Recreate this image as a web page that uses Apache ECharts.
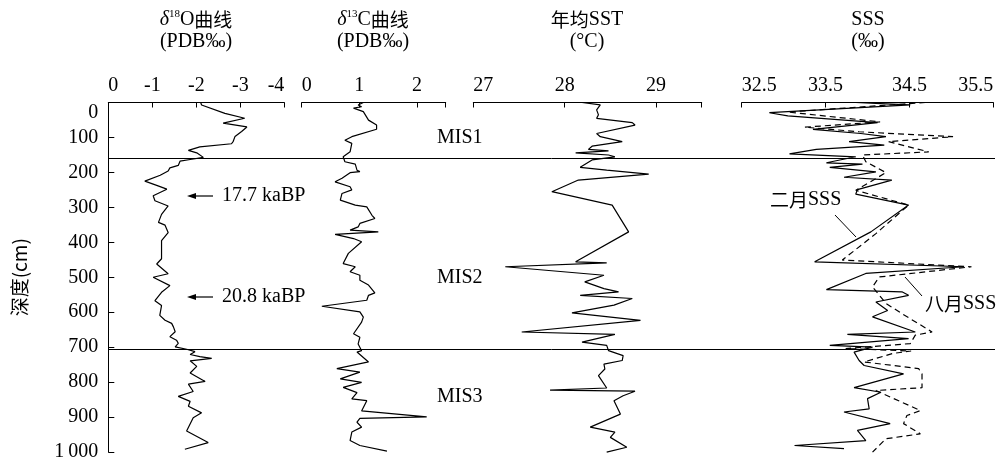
<!DOCTYPE html>
<html><head><meta charset="utf-8">
<script src="https://cdn.jsdelivr.net/npm/echarts@6/dist/echarts.min.js"></script>
<style>html,body{margin:0;padding:0;background:#fff}#c{width:1007px;height:462px}</style>
</head><body><div id="c"></div>
<script>
// ---------------- DATA ----------------
const depthTicks = [0,100,200,300,400,500,600,700,800,900,1000];
const misBoundaries = [158, 700];

const o18Depth = [0,7,31,45,59,70,83,97,111,118,127,137,144,157,163,168,180,187,196,208,225,237,248,267,281,296,320,343,351,372,395,447,462,490,500,524,543,567,581,609,623,632,642,656,670,680,689,699,706,713,721,727,732,739,755,774,798,806,827,841,855,869,888,902,940,973,992];
const o18Value = [-2.10,-2.12,-2.65,-3.10,-2.61,-3.15,-3.03,-2.88,-2.84,-2.80,-2.08,-1.82,-2.01,-2.16,-1.86,-1.63,-1.59,-1.40,-1.36,-1.18,-0.83,-1.10,-1.33,-1.02,-1.06,-1.36,-1.21,-1.14,-1.29,-1.36,-1.21,-1.21,-1.10,-1.36,-1.02,-1.40,-1.21,-1.06,-1.21,-1.17,-1.29,-1.44,-1.48,-1.52,-1.40,-1.55,-1.59,-1.52,-1.78,-1.97,-1.86,-2.08,-2.35,-1.86,-2.01,-1.86,-2.20,-1.82,-1.93,-1.59,-1.86,-1.82,-2.12,-1.93,-1.78,-2.27,-1.74];

const c13Depth = [0,7,12,16,26,50,64,76,97,107,116,140,154,168,175,192,196,199,215,225,239,248,258,277,291,296,320,329,343,353,362,367,374,386,395,428,457,466,480,490,504,518,540,547,561,578,594,609,623,656,666,685,704,708,736,755,765,784,794,808,823,841,846,875,892,896,907,921,935,959,973,989];
const c13Value = [1.07,0.98,1.04,0.90,1.07,1.16,1.30,1.30,0.87,0.75,0.87,0.84,0.72,0.75,0.93,0.96,1.01,0.84,0.70,0.58,0.84,0.87,0.70,0.67,0.93,1.13,1.22,1.27,1.01,0.98,0.84,1.33,0.58,0.90,1.04,0.81,0.72,0.93,0.84,1.01,1.01,1.16,1.27,1.16,1.13,0.35,1.01,1.07,1.04,0.90,1.01,0.98,1.04,0.96,1.16,0.61,1.01,0.67,1.04,0.72,0.96,0.87,1.13,1.04,2.17,1.01,0.96,1.04,0.87,0.84,1.01,1.48];

const sstDepth = [0,7,21,35,45,57,64,88,97,111,124,133,137,143,149,154,163,184,192,203,220,253,291,367,452,455,466,490,509,528,537,547,556,575,597,618,651,658,680,689,704,718,732,742,756,775,810,816,819,832,846,884,921,935,950,978,992];
const sstValue = [28.19,28.39,28.35,28.37,28.35,28.74,28.77,28.35,28.39,28.63,28.30,28.26,28.48,28.12,28.48,28.55,28.30,28.17,28.46,28.92,28.15,27.86,28.52,28.70,28.12,28.46,27.35,28.43,28.22,28.43,28.59,28.17,28.74,28.54,28.08,28.83,27.53,28.55,28.19,28.46,28.48,28.64,28.63,28.43,28.44,28.37,28.46,27.84,28.77,28.64,28.54,28.61,28.28,28.55,28.50,28.68,28.46];

const sssFebDepth = [0,4,7,29,38,57,76,88,97,111,121,133,146,154,171,175,184,197,212,220,247,260,291,367,452,466,485,531,537,547,566,590,608,651,658,670,689,694,708,732,746,770,809,822,840,869,878,911,930,959,973,982];
const sssFebValue = [33.86,34.22,34.51,32.83,33.05,34.12,33.35,33.92,34.22,33.78,34.20,33.39,33.07,33.86,33.51,33.94,33.55,34.10,33.72,34.29,33.88,33.86,34.49,34.04,33.37,35.15,33.98,33.51,34.41,34.49,34.10,34.24,34.06,34.57,33.76,34.49,33.55,34.06,33.84,33.90,33.96,34.43,33.84,34.16,34.00,34.02,33.72,34.27,33.88,33.98,33.13,33.72];

const sssAugDepth = [0,27,55,70,83,97,111,140,149,168,199,249,291,372,447,466,495,523,570,599,651,660,684,698,705,712,736,755,770,809,817,874,888,911,940,954,992];
const sssAugValue = [34.69,33.05,34.15,33.25,33.90,35.02,34.25,34.73,33.94,33.98,34.22,33.86,34.49,34.10,33.70,35.24,34.14,34.06,34.22,34.41,34.77,34.57,34.51,33.74,34.52,34.30,33.96,34.61,34.65,34.65,34.10,34.63,34.47,34.43,34.63,34.22,34.06];

// ---------------- CHART ----------------
const FONT = '"Liberation Serif","Times New Roman","Noto Sans CJK SC",serif';
const CJK = '"Noto Sans CJK SC","Liberation Serif",serif';
const zip = (d, v) => d.map((y, i) => [v[i], y]);

const TOP = 102.5, H = 352.5;
const grids = [
  {left:108.3, top:TOP, width:176, height:H},
  {left:301.7, top:TOP, width:144, height:H},
  {left:473.3, top:TOP, width:228.4, height:H},
  {left:741.7, top:TOP, width:251.6, height:H},
  {left:108, top:TOP, width:887, height:H}
];

const axLine = {show:true, lineStyle:{color:'#000', width:1}};
const axTick = {show:true, inside:true, length:5, lineStyle:{color:'#000', width:1}};
const lblBase = {color:'#000', fontFamily:FONT, fontSize:20, margin:7};

function xAx(gi, min, max, interval, inverse, hideMax, alignMin, alignMax) {
  return {
    type:'value', gridIndex:gi, position:'top', min, max, interval, inverse,
    axisLine:axLine, axisTick:axTick, splitLine:{show:false},
    axisLabel:Object.assign({}, lblBase, {
      alignMinLabel:alignMin, alignMaxLabel:alignMax,
      formatter: v => (hideMax && Math.abs(v - max) < 1e-6) ? '' : String(v)
    })
  };
}
const xAxes = [
  xAx(0, -4, 0, 1, true, false, 'right', 'left'),
  xAx(1, 0, 2.5, 1, false, true, 'left', 'center'),
  xAx(2, 27, 29.5, 1, false, true, 'left', 'center'),
  xAx(3, 32.5, 35.5, 1, false, false, 'left', 'right'),
  {type:'value', gridIndex:4, min:0, max:1, show:false}
];
const yAxes = [0,1,2,3,4].map(gi => {
  const base = {type:'value', gridIndex:gi, min:0, max:1000, interval:100, inverse:true, splitLine:{show:false}};
  if (gi === 0) {
    return Object.assign(base, {
      show:true, axisLine:axLine, axisTick:Object.assign({}, axTick, {length:6}),
      axisLabel:Object.assign({}, lblBase, {margin:10, verticalAlignMinLabel:'top',
        formatter: v => v === 1000 ? '1\u2009000' : String(v)}),
      name:'深度(cm)', nameLocation:'middle', nameRotate:90, nameGap:79,
      nameTextStyle:{color:'#000', fontFamily:CJK, fontSize:19}
    });
  }
  return Object.assign(base, {show:false});
});

const lineStyle = {color:'#000', width:1.2};
function lineSeries(gi, d, v, dashed) {
  return {type:'line', xAxisIndex:gi, yAxisIndex:gi, data:zip(d, v), showSymbol:false, symbol:'none',
    lineStyle: dashed ? {color:'#000', width:1.2, type:[6,4]} : lineStyle, animation:false, z:3};
}

const series = [
  lineSeries(0, o18Depth, o18Value),
  lineSeries(1, c13Depth, c13Value),
  lineSeries(2, sstDepth, sstValue),
  lineSeries(3, sssFebDepth, sssFebValue),
  lineSeries(3, sssAugDepth, sssAugValue, true),
  {type:'line', xAxisIndex:4, yAxisIndex:4, data:[], animation:false,
   markLine:{silent:true, symbol:['none','none'], label:{show:false},
     lineStyle:{color:'#000', width:1, type:'solid'},
     data: misBoundaries.map(b => ({yAxis:b}))}}
];

const titleRich = {
  i:{fontFamily:FONT, fontStyle:'italic', fontSize:20, color:'#000', lineHeight:22},
  s:{fontFamily:FONT, fontSize:11, color:'#000', verticalAlign:'top', lineHeight:22},
  n:{fontFamily:FONT, fontSize:20, color:'#000', lineHeight:22},
  c:{fontFamily:CJK, fontSize:19, color:'#000', lineHeight:22}
};
function txt(x, y, text, font, size, align) {
  return {type:'text', x, y, style:{text, fontFamily:font, fontSize:size, fill:'#000', align:align||'left', verticalAlign:'middle'}};
}
function arrow(x1, x2, y) {
  return [
    {type:'line', shape:{x1:x1+7, y1:y, x2:x2, y2:y}, style:{stroke:'#000', lineWidth:1.2}},
    {type:'polygon', shape:{points:[[x1,y],[x1+9,y-3],[x1+9,y+3]]}, style:{fill:'#000'}}
  ];
}

const graphic = [
  {type:'group', children:[
    {type:'text', x:196, y:9, style:{text:'{i|δ}{s|18}{n|O}{c|曲线}\n{n|(PDB‰)}', rich:titleRich, align:'center'}},
    {type:'text', x:373, y:9, style:{text:'{i|δ}{s|13}{n|C}{c|曲线}\n{n|(PDB‰)}', rich:titleRich, align:'center'}},
    {type:'text', x:587, y:9, style:{text:'{c|年均}{n|SST}\n{n|(°C)}', rich:titleRich, align:'center'}},
    {type:'text', x:868, y:9, style:{text:'{n|SSS}\n{n|(‰)}', rich:titleRich, align:'center'}}
  ]},
  txt(437, 138, 'MIS1', FONT, 20),
  txt(437, 278, 'MIS2', FONT, 20),
  txt(437, 397, 'MIS3', FONT, 20),
  ...arrow(187, 213, 196),
  txt(222, 196, '17.7 kaBP', FONT, 20),
  ...arrow(187, 213, 297),
  txt(222, 297, '20.8 kaBP', FONT, 20),
  {type:'text', x:770, y:200, style:{text:'{c|二月}{n|SSS}', rich:titleRich, verticalAlign:'middle'}},
  {type:'line', shape:{x1:835, y1:215, x2:856, y2:237}, style:{stroke:'#000', lineWidth:1}},
  {type:'text', x:925, y:304, style:{text:'{c|八月}{n|SSS}', rich:titleRich, verticalAlign:'middle'}},
  {type:'line', shape:{x1:905, y1:277, x2:922, y2:296}, style:{stroke:'#000', lineWidth:1}}
];

const chart = echarts.init(document.getElementById('c'), null, {renderer:'canvas'});
chart.setOption({
  backgroundColor:'#fff', animation:false,
  grid:grids, xAxis:xAxes, yAxis:yAxes, series, graphic
});
</script></body></html>
